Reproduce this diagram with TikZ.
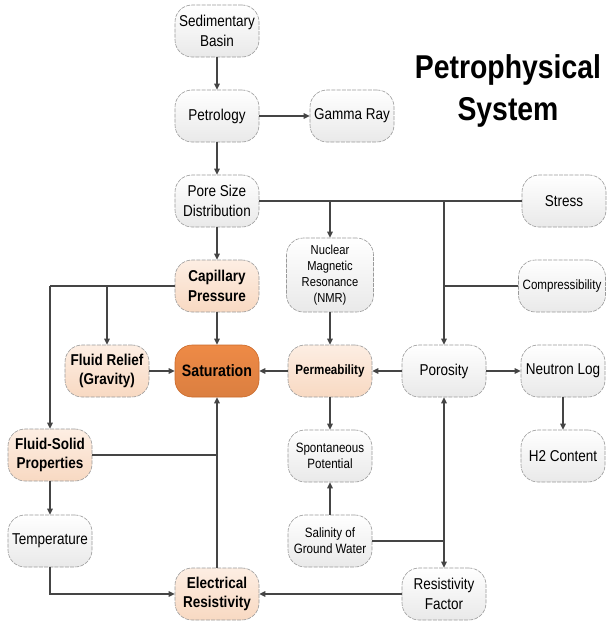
\documentclass[tikz,border=0pt]{standalone}
\usepackage{fontspec}
\setmainfont{Liberation Sans}[FakeStretch=0.86]
\usetikzlibrary{arrows.meta}
\definecolor{bordgray}{HTML}{9A9A9A}
\definecolor{lightbot}{HTML}{E9E9E9}
\definecolor{peachtop}{HTML}{FDEEE3}
\definecolor{peachbot}{HTML}{F8D9C2}
\definecolor{orangefill}{HTML}{EE8A46}
\definecolor{orangebord}{HTML}{C9692A}
\definecolor{linecol}{HTML}{454545}
\tikzset{
  box/.style={rounded corners=17pt, draw=bordgray, line width=0.6pt,
    dash pattern=on 4pt off 1.2pt, top color=white, bottom color=lightbot,
    minimum width=84pt, minimum height=52pt, align=center, inner sep=2pt,
    font=\fontsize{15.7}{19.5}\selectfont},
  smallbox/.style={box, font=\fontsize{13.5}{16}\selectfont},
  peach/.style={box, top color=peachtop, bottom color=peachbot,
    font=\fontsize{15.7}{19.5}\selectfont\bfseries},
  sat/.style={box, top color=orangefill, bottom color=orangefill!92!black,
    draw=orangebord, solid, font=\fontsize{16.5}{19}\selectfont\bfseries},
  arr/.style={draw=linecol, line width=1.1pt, -{Triangle[length=6pt,width=5.5pt]}},
  ln/.style={draw=linecol, line width=1.1pt},
}
\begin{document}
\begin{tikzpicture}[x=1pt,y=-1pt]
\useasboundingbox (0,0) rectangle (606,624);
% nodes
\node[box] (sed) at (217,31) {Sedimentary\\Basin};
\node[box] (pet) at (217,116) {Petrology};
\node[box] (gam) at (352,116) {Gamma Ray};
\node[box] (pore) at (217,201) {Pore Size\\Distribution};
\node[box] (stress) at (564,201) {Stress};
\node[smallbox, minimum width=87pt, minimum height=74pt, font=\fontsize{13}{16}\selectfont] (nmr) at (330,275) {Nuclear\\Magnetic\\Resonance\\(NMR)};
\node[peach] (cap) at (217,286) {Capillary\\Pressure};
\node[smallbox, minimum width=87pt] (comp) at (562,286) {Compressibility};
\node[peach] (fr) at (107,371) {Fluid Relief\\(Gravity)};
\node[sat] (satn) at (217,371) {Saturation};
\node[peach, font=\fontsize{13.5}{16}\selectfont\bfseries] (perm) at (330,371) {Permeability};
\node[box] (por) at (444,371) {Porosity};
\node[box] (neu) at (563,371) {Neutron Log};
\node[smallbox] (sp) at (330,456) {Spontaneous\\Potential};
\node[box] (h2) at (563,456) {H2 Content};
\node[peach] (fs) at (50,455) {Fluid-Solid\\Properties};
\node[box] (temp) at (50,541) {Temperature};
\node[smallbox] (sal) at (330,541) {Salinity of\\Ground Water};
\node[peach] (er) at (217,594) {Electrical\\Resistivity};
\node[box] (rf) at (444,594) {Resistivity\\Factor};
\node[align=center, font=\fontsize{33}{42}\selectfont\bfseries] (title) at (508,91) {Petrophysical\\System};
% junction coordinates
\coordinate (jn) at (nmr.north |- pore.east);
\coordinate (jp) at (por.north |- pore.east);
\coordinate (jc) at (por.north |- comp.west);
\coordinate (jf) at (fr.north |- cap.west);
\coordinate (jl) at (fs.north |- cap.west);
\coordinate (js) at (por.south |- sal.east);
\coordinate (je) at (er.north |- fs.east);
% connectors
\draw[arr] (sed) -- (pet);
\draw[arr] (pet) -- (gam);
\draw[arr] (pet) -- (pore);
\draw[arr] (pore) -- (cap);
\draw[ln] (pore.east) -- (stress.west);
\draw[arr] (jn) -- (nmr.north);
\draw[arr] (jp) -- (por.north);
\draw[ln] (comp.west) -- (jc);
\draw[arr] (nmr) -- (perm);
\draw[arr] (cap) -- (satn);
\draw[ln] (cap.west) -- (jl);
\draw[arr] (jl) -- (fs.north);
\draw[arr] (jf) -- (fr.north);
\draw[arr] (fr) -- (satn);
\draw[arr] (perm) -- (satn);
\draw[arr] (por) -- (perm);
\draw[arr] (por) -- (neu);
\draw[arr] (neu) -- (h2);
\draw[arr] (perm) -- (sp);
\draw[arr] (sal) -- (sp);
\draw[ln] (sal.east) -- (js);
\draw[arr] (js) -- (por.south);
\draw[arr] (js) -- (rf.north);
\draw[arr] (rf) -- (er);
\draw[arr] (temp.south) |- (er.west);
\draw[arr] (fs) -- (temp);
\draw[ln] (fs.east) -- (je);
\draw[arr] (er.north) -- (satn.south);
\end{tikzpicture}
\end{document}
